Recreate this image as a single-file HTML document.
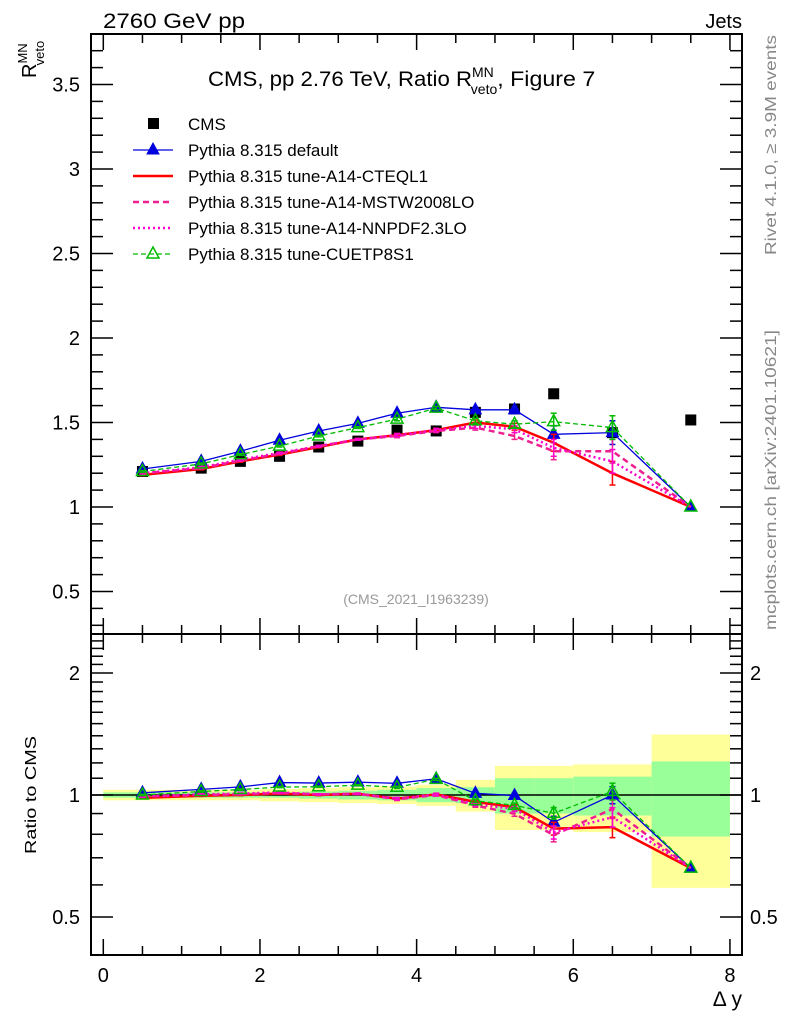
<!DOCTYPE html>
<html><head><meta charset="utf-8">
<style>
body{margin:0;background:#fff;}
svg{display:block;font-family:"Liberation Sans",sans-serif;}
</style></head>
<body>
<svg id="chart" width="786" height="1024" viewBox="0 0 786 1024" xmlns="http://www.w3.org/2000/svg">
<rect width="786" height="1024" fill="#fff"/>
<g id="bands"></g>
<g id="axes"></g>
<g id="series"></g>
<text x="103" y="28" font-size="21" textLength="142" lengthAdjust="spacingAndGlyphs">2760 GeV pp</text>
<text x="742" y="28" font-size="20" text-anchor="end">Jets</text>
<text x="208" y="86" font-size="21"><tspan textLength="264" lengthAdjust="spacingAndGlyphs">CMS, pp 2.76 TeV, Ratio R</tspan><tspan dy="-9" font-size="14">MN</tspan><tspan dx="-23" dy="17" font-size="14">veto</tspan><tspan dy="-8" textLength="98" lengthAdjust="spacingAndGlyphs">, Figure 7</tspan></text>
<text x="416" y="604" font-size="14" fill="#999" text-anchor="middle">(CMS_2021_I1963239)</text>
<g transform="translate(36,78) rotate(-90)"><text x="0" y="0" font-size="20">R<tspan dy="-9" font-size="13">MN</tspan><tspan dx="-22" dy="17" font-size="13">veto</tspan></text></g>
<text transform="translate(36,795) rotate(-90)" font-size="16" text-anchor="middle" textLength="118" lengthAdjust="spacingAndGlyphs">Ratio to CMS</text>
<text x="742" y="1006" font-size="21" text-anchor="end">Δ y</text>
<text transform="translate(776,255) rotate(-90)" font-size="16" fill="#888" textLength="220" lengthAdjust="spacingAndGlyphs">Rivet 4.1.0, ≥ 3.9M events</text>
<text transform="translate(776,630) rotate(-90)" font-size="16" fill="#888" textLength="300" lengthAdjust="spacingAndGlyphs">mcplots.cern.ch [arXiv:2401.10621]</text>
<g id="legend"></g>
</svg>
<script>
const xCenters=[0.5,1.25,1.75,2.25,2.75,3.25,3.75,4.25,4.75,5.25,5.75,6.5,7.5];
const xLo=[0,1,1.5,2,2.5,3,3.5,4,4.5,5,5.5,6,7];
const xHi=[1,1.5,2,2.5,3,3.5,4,4.5,5,5.5,6,7,8];
const cms=[1.21,1.23,1.27,1.30,1.355,1.39,1.455,1.45,1.56,1.58,1.67,1.44,1.515];
const cmsStat=[0.015,0.015,0.015,0.015,0.02,0.025,0.03,0.04,0.045,0.1,0.1,0.11,0.21];
const cmsTot=[0.03,0.03,0.03,0.035,0.04,0.045,0.05,0.06,0.09,0.18,0.18,0.19,0.41];
const pyDefault=[1.225,1.27,1.33,1.395,1.45,1.495,1.555,1.59,1.575,1.575,1.43,1.44,1.0];
const pyCTEQ=[1.19,1.225,1.27,1.31,1.355,1.40,1.425,1.455,1.50,1.475,1.38,1.20,1.0];
const pyMSTW=[1.20,1.23,1.275,1.315,1.36,1.40,1.42,1.45,1.47,1.42,1.33,1.33,1.0];
const pyNNPDF=[1.20,1.235,1.28,1.32,1.36,1.40,1.425,1.455,1.48,1.46,1.35,1.27,1.0];
const pyCUETP=[1.21,1.255,1.31,1.36,1.42,1.47,1.52,1.585,1.51,1.49,1.505,1.47,1.0];
const mcErr=[0.005,0.005,0.005,0.005,0.005,0.005,0.01,0.01,0.015,0.02,0.05,0.07,0.0];
const mainTicks=[0.5,1,1.5,2,2.5,3,3.5];
const ratioTicks=[0.5,1,2];
const xTicks=[0,2,4,6,8];

const NS="http://www.w3.org/2000/svg";
const L=91,R=742,T=34,MID=634,B=955;
const X=v=>103.3+v*78.33;
const Y=v=>507-(v-1)*169;
const YR=r=>795-122*Math.log2(r);
function el(tag,attrs,parent){const e=document.createElementNS(NS,tag);for(const k in attrs)e.setAttribute(k,attrs[k]);parent.appendChild(e);return e;}
const axes=document.getElementById('axes'),bands=document.getElementById('bands'),ser=document.getElementById('series'),leg=document.getElementById('legend');

for(let i=0;i<xLo.length;i++){
  const y1=el('rect',{x:X(xLo[i]),y:YR(1+cmsTot[i]),width:X(xHi[i])-X(xLo[i]),height:YR(1-cmsTot[i])-YR(1+cmsTot[i]),fill:'#ffff99'},bands);
  
  
  const g=el('rect',{x:X(xLo[i]),y:YR(1+cmsStat[i]),width:X(xHi[i])-X(xLo[i]),height:YR(1-cmsStat[i])-YR(1+cmsStat[i]),fill:'#99ff99'},bands);
  
  
}
el('rect',{x:L,y:T,width:R-L,height:MID-T,fill:'none',stroke:'#000','stroke-width':2},axes);
el('rect',{x:L,y:MID,width:R-L,height:B-MID,fill:'none',stroke:'#000','stroke-width':2},axes);
el('line',{x1:L,x2:R,y1:YR(1),y2:YR(1),stroke:'#000','stroke-width':1.5},axes);
for(let v=0;v<=8.001;v+=0.5){
  const maj=Math.abs(v-Math.round(v/2)*2)<1e-6;const len=maj?16:9;
  [T,MID,B].forEach((yy,k)=>{
    if(k===0||k===2) el('line',{x1:X(v),x2:X(v),y1:yy,y2:k===0?yy+len:yy-len,stroke:'#000','stroke-width':1.5},axes);
    else {el('line',{x1:X(v),x2:X(v),y1:yy-len,y2:yy+len,stroke:'#000','stroke-width':1.5},axes);}
  });
}
xTicks.forEach(v=>{const t=el('text',{x:X(v),y:982,'font-size':20,'text-anchor':'middle'},axes);t.textContent=v;

});
for(let v=0.2;v<=3.85;v+=0.1){
  const y=Y(v);if(y<T||y>MID)continue;
  const maj=Math.abs(v*2-Math.round(v*2))<1e-6;const len=maj?22:12;
  el('line',{x1:L,x2:L+len,y1:y,y2:y,stroke:'#000','stroke-width':1.5},axes);
  el('line',{x1:R,x2:R-len,y1:y,y2:y,stroke:'#000','stroke-width':1.5},axes);
}
mainTicks.forEach(v=>{const t=el('text',{x:80,y:Y(v)+7,'font-size':20,'text-anchor':'end'},axes);t.textContent=v;

});
for(let v=0.4;v<=2.55;v+=0.1){
  const y=YR(v);if(y<MID||y>B)continue;
  const maj=ratioTicks.some(m=>Math.abs(m-v)<1e-6);const len=maj?22:12;
  el('line',{x1:L,x2:L+len,y1:y,y2:y,stroke:'#000','stroke-width':1.5},axes);
  el('line',{x1:R,x2:R-len,y1:y,y2:y,stroke:'#000','stroke-width':1.5},axes);
}
ratioTicks.forEach(v=>{
  const t=el('text',{x:80,y:YR(v)+7,'font-size':20,'text-anchor':'end'},axes);t.textContent=v;
  
  
  const t2=el('text',{x:750,y:YR(v)+7,'font-size':20},axes);t2.textContent=v;
  
  
});

const models=[
 {name:'Pythia 8.315 default',vals:pyDefault,color:'#0000dd',w:1.3,dash:'',marker:'tri',key:'series-default'},
 {name:'Pythia 8.315 tune-A14-CTEQL1',vals:pyCTEQ,color:'#ff0000',w:2.5,dash:'',marker:'',key:'series-cteql1'},
 {name:'Pythia 8.315 tune-A14-MSTW2008LO',vals:pyMSTW,color:'#ee1f8f',w:2.5,dash:'6,4',marker:'',key:'series-mstw2008lo'},
 {name:'Pythia 8.315 tune-A14-NNPDF2.3LO',vals:pyNNPDF,color:'#ff00cc',w:2.5,dash:'2,3',marker:'',key:'series-nnpdf23lo'},
 {name:'Pythia 8.315 tune-CUETP8S1',vals:pyCUETP,color:'#00bb00',w:1.3,dash:'5,3',marker:'otri',key:'series-cuetp8s1'}
];
function tri(g,x,y,c,open){return el('polygon',{points:`${x},${y-7} ${x-6},${y+4} ${x+6},${y+4}`,fill:open?'none':c,stroke:c,'stroke-width':open?1.5:1},g);}
function drawModel(m,ratio){
  const g=el('g',{},ser);
  
  
  const ys=m.vals.map((v,i)=>ratio?YR(v/cms[i]):Y(v));
  el('polyline',{points:xCenters.map((x,i)=>X(x)+','+ys[i]).join(' '),fill:'none',stroke:m.color,'stroke-width':m.w,'stroke-dasharray':m.dash},g);
  m.vals.forEach((v,i)=>{
    const e=mcErr[i];if(e>0.004){
      const lo=ratio?YR((v-e)/cms[i]):Y(v-e),hi=ratio?YR((v+e)/cms[i]):Y(v+e);
      el('line',{x1:X(xCenters[i]),x2:X(xCenters[i]),y1:lo,y2:hi,stroke:m.color,'stroke-width':1.5},g);
      el('line',{x1:X(xCenters[i])-3,x2:X(xCenters[i])+3,y1:lo,y2:lo,stroke:m.color,'stroke-width':1.5},g);
      el('line',{x1:X(xCenters[i])-3,x2:X(xCenters[i])+3,y1:hi,y2:hi,stroke:m.color,'stroke-width':1.5},g);
    }
    if(m.marker) tri(g,X(xCenters[i]),ys[i],m.color,m.marker==='otri');
  });
}
const cg=el('g',{},ser);


cms.forEach((v,i)=>{const r=el('rect',{x:X(xCenters[i])-5.5,y:Y(v)-5.5,width:11,height:11,fill:'#000'},cg);

});
models.forEach(m=>drawModel(m,false));
models.forEach(m=>drawModel(m,true));

const ly=[124,150,176,202,228,254];
el('rect',{x:148,y:ly[0]-6,width:11,height:11,fill:'#000'},leg);
const lt=el('text',{x:188,y:ly[0]+6,'font-size':17},leg);lt.textContent='CMS';


models.forEach((m,k)=>{
  const y=ly[k+1];
  el('line',{x1:133,x2:173,y1:y,y2:y,stroke:m.color,'stroke-width':m.w,'stroke-dasharray':m.dash},leg);
  if(m.marker) tri(leg,153,y,m.color,m.marker==='otri');
  const t=el('text',{x:188,y:y+6,'font-size':17},leg);t.textContent=m.name;
  
  
});
</script>
</body></html>
